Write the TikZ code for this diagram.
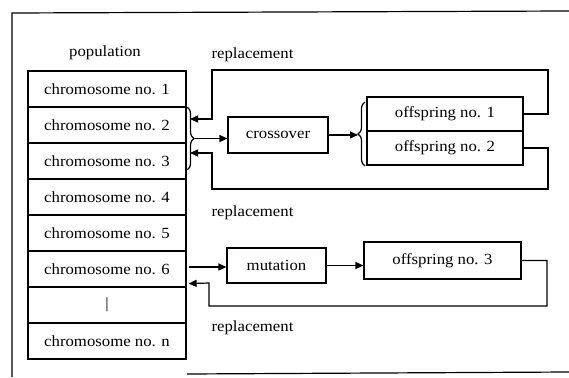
\documentclass[tikz,border=0pt]{standalone}
\usepackage{fontspec}
\setmainfont{Liberation Serif}[FakeStretch=1.08]
\usetikzlibrary{arrows.meta,decorations.pathreplacing,calc}
\newcommand\diagfont{\fontsize{15.5}{18}\selectfont}
\begin{document}
\begin{tikzpicture}[x=1pt,y=-1pt,
  line width=1.2pt,
  box/.style={draw, inner sep=0pt, font=\diagfont},
  row/.style={box, minimum width=158pt, minimum height=36pt},
  lab/.style={font=\diagfont, inner sep=0pt},
  arr/.style={-{Triangle[length=8pt,width=7pt]}},
  brc/.style={decorate, decoration={brace, amplitude=7pt}}]
\useasboundingbox (0,0) rectangle (569,377);
% frame
\draw (569,11) -- (12,13) -- (12,377);
\draw (187,374) -- (569,372);
% population
\node[lab] (pop) at (105,53) {population};
\node[row] (c1) at (107,89) {chromosome no. 1};
\node[row] (c2) at (107,125) {chromosome no. 2};
\node[row] (c3) at (107,161) {chromosome no. 3};
\node[row] (c4) at (107,197) {chromosome no. 4};
\node[row] (c5) at (107,233) {chromosome no. 5};
\node[row] (c6) at (107,269) {chromosome no. 6};
\node[row] (cd) at (107,305) {|};
\node[row] (cn) at (107,341) {chromosome no. n};
% operators
\node[box, minimum width=100pt, minimum height=36pt] (cross) at (278,135) {crossover};
\node[box, minimum width=156pt, minimum height=34pt] (o1) at (445,114) {offspring no. 1};
\node[box, minimum width=156pt, minimum height=34pt] (o2) at (445,148) {offspring no. 2};
\node[box, minimum width=99pt, minimum height=35pt] (mut) at (276.5,265.5) {mutation};
\node[box, minimum width=157pt, minimum height=37pt] (o3) at (442.5,260.5) {offspring no. 3};
% labels
\node[lab, anchor=west] (r1) at (211,55) {replacement};
\node[lab, anchor=west] (r2) at (211,213) {replacement};
\node[lab, anchor=west] (r3) at (211,328) {replacement};
% braces
\draw[brc] (187,107) -- (187,170);
\coordinate (lb) at (195,138.5);
\draw[brc] (365,166) -- (365,102);
\coordinate (rb) at (358,134);
\coordinate (c6in) at ($(c6.south east)+(2,-4)$);
\coordinate (c6out) at ($(c6.east)+(2,-2)$);
% connectors
\draw[arr] (lb) -- (cross.west |- lb);
\draw[arr] (cross.east) -- (rb |- cross.east);
\draw[arr] (o1.east) -- (548,114) -- (548,70) -- (212,70) -- (212,119) -- (190,119);
\draw[arr] (o2.east) -- (548,148) -- (548,189) -- (212,189) -- (212,153) -- (190,153);
\draw[arr] (c6out) -- (mut.west |- c6out);
\draw[arr] (mut.east) -- (o3.west |- mut.east);
\draw[arr] (o3.east) -- (547,260.5) -- (547,306) -- (209,306) -- (209,283) -- (c6in);
\end{tikzpicture}
\end{document}
